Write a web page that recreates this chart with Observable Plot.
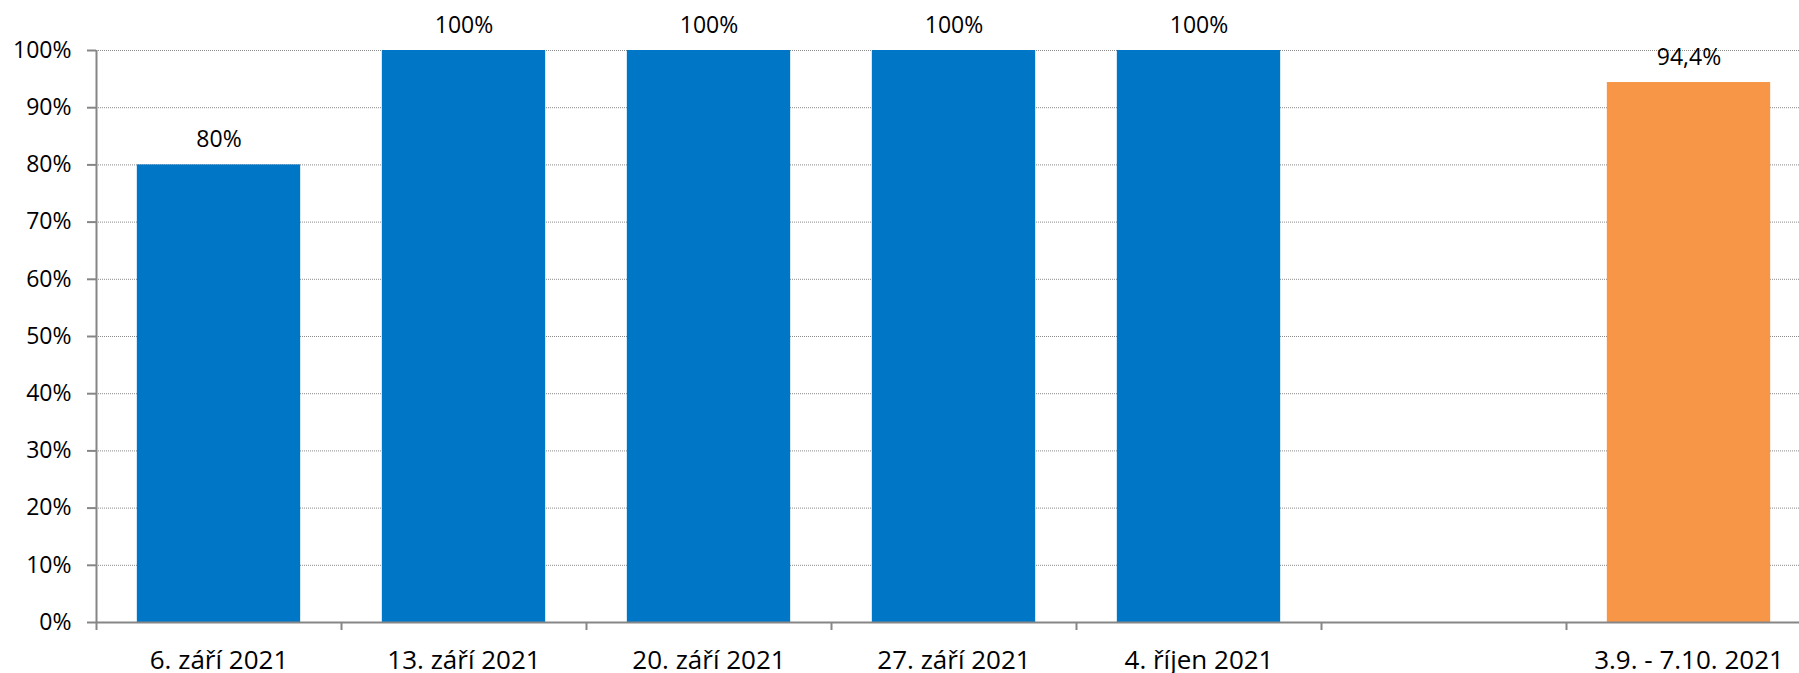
<!DOCTYPE html>
<html>
<head>
<meta charset="utf-8">
<script src="https://cdn.jsdelivr.net/npm/d3@7"></script>
<script src="https://cdn.jsdelivr.net/npm/@observablehq/plot@0.6"></script>
<style>
  html, body { margin: 0; padding: 0; background: #fff; }
</style>
</head>
<body>
<div id="chart"></div>
<script>
// Data
const categories = ["6. září 2021", "13. září 2021", "20. září 2021", "27. září 2021", "4. říjen 2021", "", "3.9. - 7.10. 2021"];
const values = [0.80, 1.00, 1.00, 1.00, 1.00, null, 0.944];
const series = ["week", "week", "week", "week", "week", null, "total"];
const yTicks = [0, 0.1, 0.2, 0.3, 0.4, 0.5, 0.6, 0.7, 0.8, 0.9, 1.0];

const table = categories.map((c, i) => ({i, category: c, value: values[i], series: series[i]}));
const bars = table.filter(d => d.value != null);
const labelled = table.filter(d => d.category !== "");

const cz = d3.formatLocale({decimal: ",", thousands: " ", grouping: [3], currency: ["", " Kč"]});
const pct = cz.format(".1~%");

const W = 1799, H = 673;
const mL = 96, mT = 50, mB = 51;
const band = 245;
const pad = 1 / 6;
const axisGray = "#868686";
const font = "'Open Sans', 'Liberation Sans', sans-serif";

const chart = Plot.plot({
  width: W,
  height: H,
  marginLeft: mL,
  marginRight: 0,
  marginTop: mT,
  marginBottom: mB,
  style: {fontFamily: font, color: "#000", background: "#fff", overflow: "visible"},
  x: {type: "linear", domain: [0, categories.length], range: [mL, mL + band * categories.length]},
  y: {domain: [0, 1], label: null},
  color: {domain: ["week", "total"], range: ["#0076C6", "#F79646"]},
  marks: [
    Plot.ruleY(yTicks.slice(1), {stroke: "#8a8a8a", strokeDasharray: "1,1", strokeWidth: 1}),
    Plot.rectY(bars, {x1: d => d.i + pad, x2: d => d.i + 1 - pad, y1: 0, y2: "value", fill: "series"}),
    Plot.ruleY([0], {stroke: axisGray, strokeWidth: 2}),
    Plot.ruleX([0], {y1: 0, y2: 1, stroke: axisGray, strokeWidth: 2}),
    Plot.axisY(yTicks, {
      anchor: "left", tickSize: 9, tickPadding: 16, stroke: axisGray, strokeWidth: 2,
      tickFormat: d3.format(".0%"), fontSize: 23, label: null
    }),
    Plot.axisX(d3.range(0, categories.length + 1), {
      anchor: "bottom", tickSize: 8, stroke: axisGray, strokeWidth: 2,
      tickFormat: () => "", label: null
    }),
    Plot.text(labelled, {
      x: d => d.i + 0.5, y: 0, text: "category", dy: 46, lineAnchor: "bottom",
      fontSize: 26, fill: "#000"
    }),
    Plot.text(bars, {
      x: d => d.i + 0.5, y: "value", text: d => pct(d.value), dy: -18, lineAnchor: "bottom",
      fontSize: 23, fill: "#000"
    })
  ]
});
document.getElementById("chart").appendChild(chart);
</script>
</body>
</html>
